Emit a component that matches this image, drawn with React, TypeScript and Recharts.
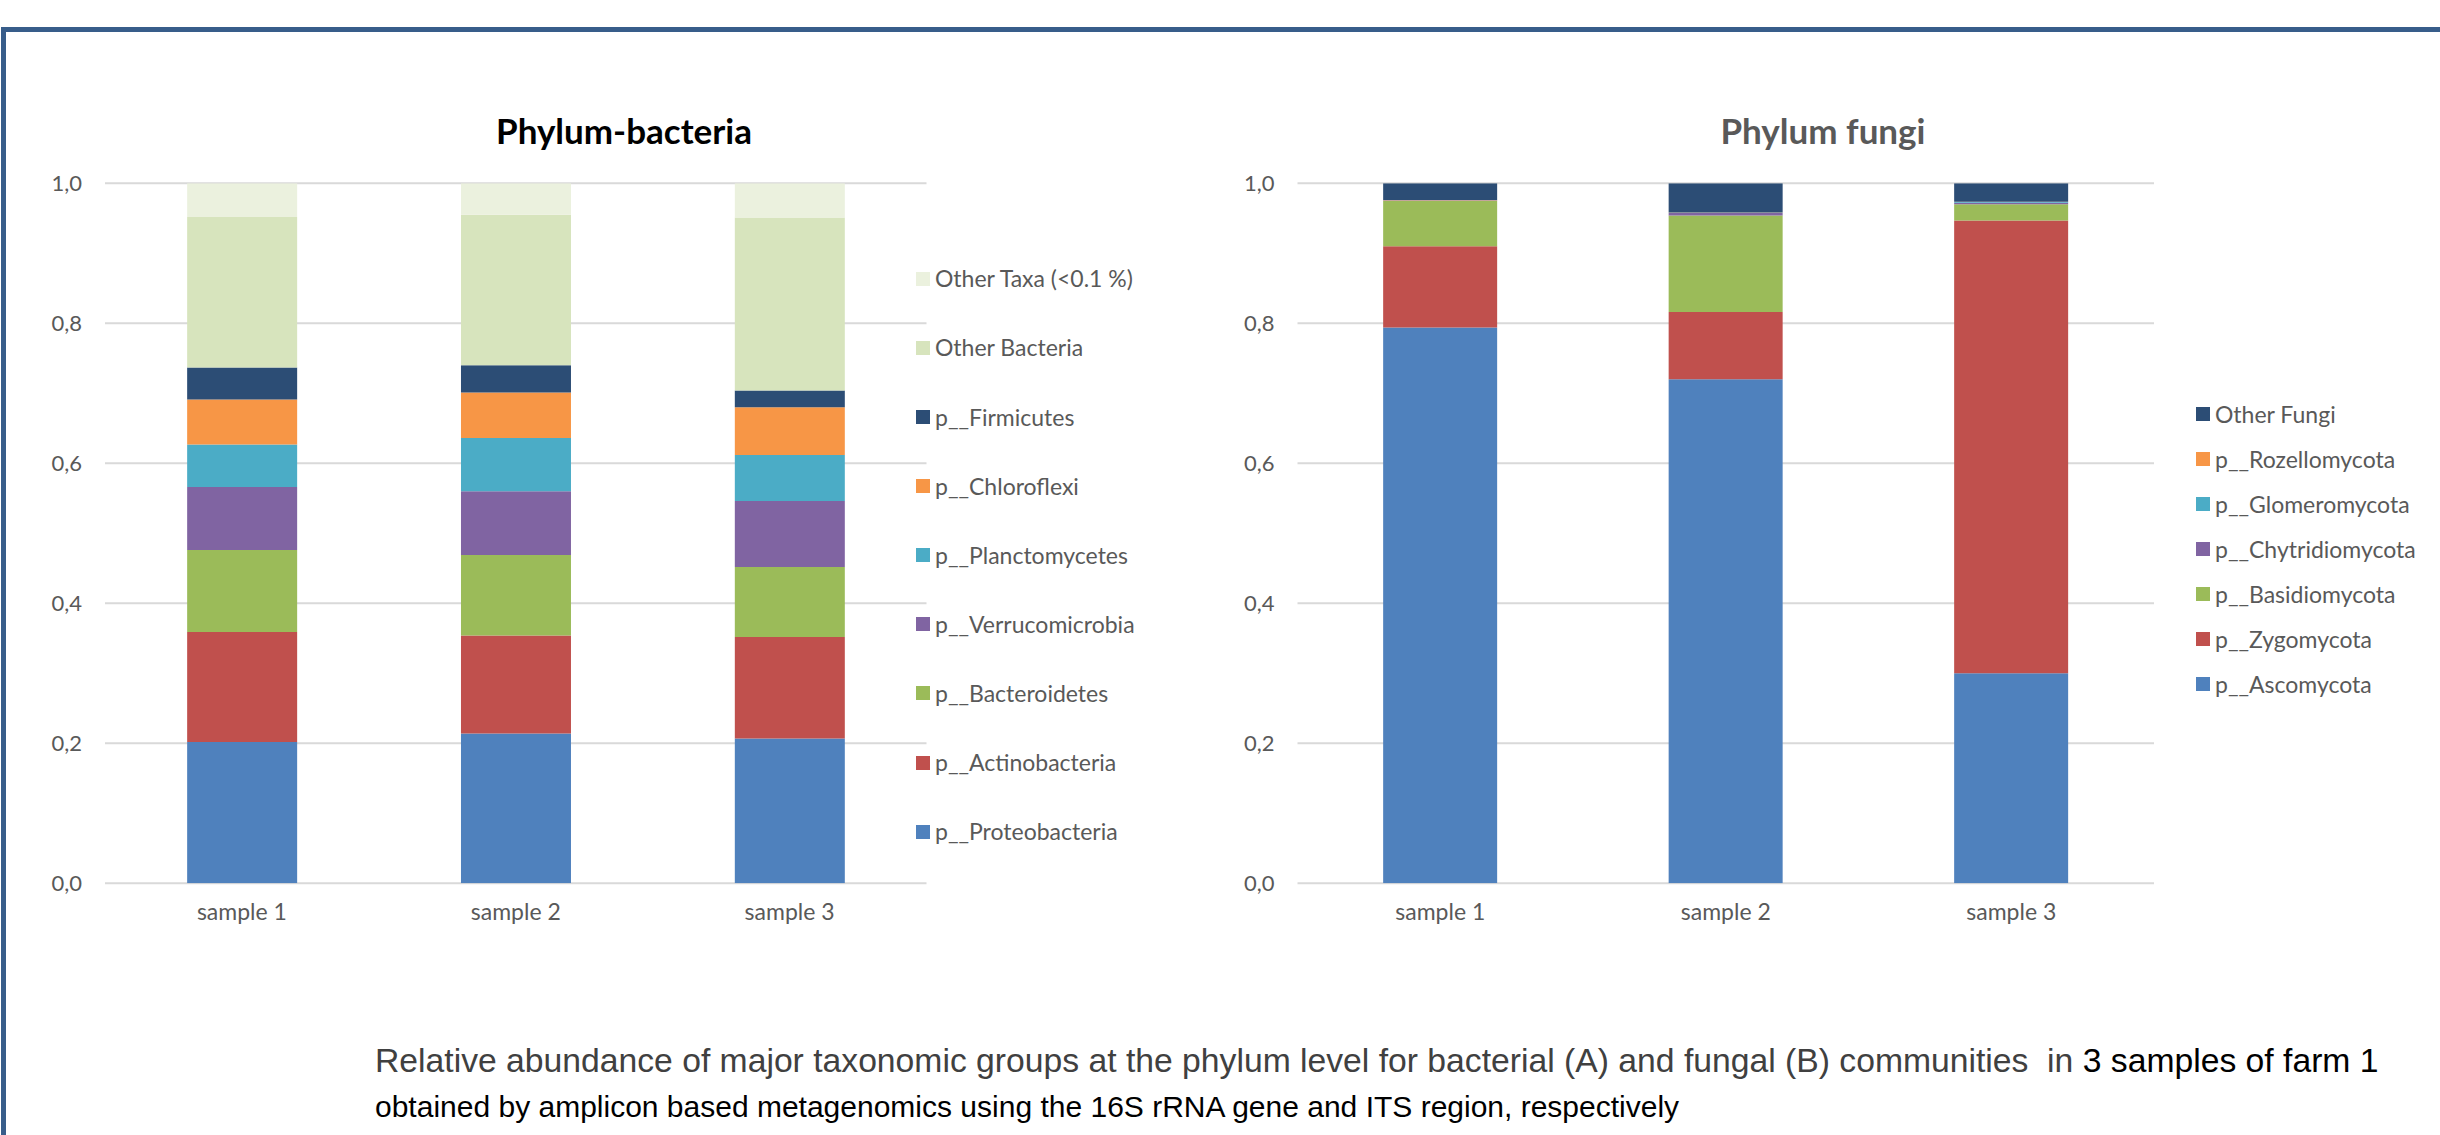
import React from 'react';
import { BarChart, Bar, XAxis, YAxis, CartesianGrid, Legend } from 'recharts';

// ---- shared axis data ----
const samples = ['sample 1', 'sample 2', 'sample 3'];
const yTicks = [0, 0.2, 0.4, 0.6, 0.8, 1.0];

// ---- bacterial phyla, relative abundance (stack order: bottom -> top) ----
const proteobacteria = [0.202, 0.214, 0.207];
const actinobacteria = [0.157, 0.14, 0.145];
const bacteroidetes = [0.117, 0.115, 0.1];
const verrucomicrobia = [0.09, 0.091, 0.094];
const planctomycetes = [0.061, 0.076, 0.066];
const chloroflexi = [0.064, 0.065, 0.068];
const firmicutes = [0.046, 0.039, 0.024];
const otherBacteria = [0.215, 0.215, 0.247];
const otherTaxa = [0.048, 0.045, 0.049];

// ---- fungal phyla, relative abundance (stack order: bottom -> top) ----
const ascomycota = [0.794, 0.72, 0.3];
const zygomycota = [0.116, 0.096, 0.647];
const basidiomycota = [0.065, 0.138, 0.023];
const chytridiomycota = [0.0007, 0.0035, 0.0022];
const glomeromycota = [0.0002, 0.0006, 0.001];
const rozellomycota = [0.0001, 0.0002, 0.0003];
const otherFungi = [0.024, 0.0417, 0.0265];

type Series = { key: string; name: string; values: number[]; color: string };

const bacteriaSeries: Series[] = [
  { key: 'proteo', name: 'p__Proteobacteria', values: proteobacteria, color: '#4F81BD' },
  { key: 'actino', name: 'p__Actinobacteria', values: actinobacteria, color: '#C0504D' },
  { key: 'bactero', name: 'p__Bacteroidetes', values: bacteroidetes, color: '#9BBB59' },
  { key: 'verruco', name: 'p__Verrucomicrobia', values: verrucomicrobia, color: '#8064A2' },
  { key: 'plancto', name: 'p__Planctomycetes', values: planctomycetes, color: '#4BACC6' },
  { key: 'chloro', name: 'p__Chloroflexi', values: chloroflexi, color: '#F79646' },
  { key: 'firmi', name: 'p__Firmicutes', values: firmicutes, color: '#2C4D75' },
  { key: 'otherB', name: 'Other Bacteria', values: otherBacteria, color: '#D7E4BD' },
  { key: 'otherT', name: 'Other Taxa (<0.1 %)', values: otherTaxa, color: '#EBF1DE' },
];

const fungiSeries: Series[] = [
  { key: 'asco', name: 'p__Ascomycota', values: ascomycota, color: '#4F81BD' },
  { key: 'zygo', name: 'p__Zygomycota', values: zygomycota, color: '#C0504D' },
  { key: 'basidio', name: 'p__Basidiomycota', values: basidiomycota, color: '#9BBB59' },
  { key: 'chytrid', name: 'p__Chytridiomycota', values: chytridiomycota, color: '#8064A2' },
  { key: 'glomero', name: 'p__Glomeromycota', values: glomeromycota, color: '#4BACC6' },
  { key: 'rozello', name: 'p__Rozellomycota', values: rozellomycota, color: '#F79646' },
  { key: 'otherF', name: 'Other Fungi', values: otherFungi, color: '#2C4D75' },
];

const buildRows = (series: Series[]) =>
  samples.map((sample, i) => {
    const row: Record<string, string | number> = { sample };
    series.forEach((s) => {
      row[s.key] = s.values[i];
    });
    return row;
  });

const bacteriaRows = buildRows(bacteriaSeries);
const fungiRows = buildRows(fungiSeries);

const CHART_FONT = 'Lato, "Open Sans", sans-serif';
const TEXT_GREY = '#595959';
const GRID_GREY = '#D9D9D9';

const fmtTick = (v: number) => v.toFixed(1).replace('.', ',');

// Legend listed top-down in stack order (top segment first)
const StackLegend = (props: any) => {
  const { payload, rowHeight, order } = props;
  const items = [...(payload ?? [])].sort(
    (a: any, b: any) => order.indexOf(b.dataKey) - order.indexOf(a.dataKey)
  );
  return (
    <div>
      {items.map((it: any) => (
        <div
          key={it.value}
          style={{ display: 'flex', alignItems: 'center', height: rowHeight }}
        >
          <span
            style={{
              display: 'inline-block',
              width: 14,
              height: 14,
              background: it.color,
              marginRight: 5,
              flex: 'none',
            }}
          />
          <span
            style={{
              fontFamily: CHART_FONT,
              fontSize: 23,
              color: TEXT_GREY,
              whiteSpace: 'nowrap',
              lineHeight: 1,
            }}
          >
            {it.value}
          </span>
        </div>
      ))}
    </div>
  );
};

type PanelProps = {
  rows: Record<string, string | number>[];
  series: Series[];
  width: number;
  yAxisWidth: number;
  marginRight: number;
  legendLeft: number;
  legendTop: number;
  legendRow: number;
};

const StackedPanel = ({
  rows,
  series,
  width,
  yAxisWidth,
  marginRight,
  legendLeft,
  legendTop,
  legendRow,
}: PanelProps) => (
  <BarChart
    width={width}
    height={1000}
    data={rows}
    margin={{ top: 183.3, right: marginRight, bottom: 76.7, left: 0 }}
    barCategoryGap="30%"
  >
    <CartesianGrid horizontal vertical={false} stroke={GRID_GREY} strokeWidth={2} />
    <XAxis
      dataKey="sample"
      axisLine={false}
      tickLine={false}
      tickSize={0}
      tickMargin={20}
      height={40}
      tick={{ fill: TEXT_GREY, fontSize: 23, fontFamily: CHART_FONT }}
    />
    <YAxis
      width={yAxisWidth}
      domain={[0, 1]}
      ticks={yTicks}
      allowDataOverflow
      axisLine={false}
      tickLine={false}
      tickSize={0}
      tickMargin={23}
      tickFormatter={fmtTick}
      tick={{ fill: TEXT_GREY, fontSize: 22, fontFamily: CHART_FONT }}
    />
    {series.map((s) => (
      <Bar
        key={s.key}
        dataKey={s.key}
        name={s.name}
        stackId="stack"
        fill={s.color}
        isAnimationActive={false}
      />
    ))}
    <Legend
      layout="vertical"
      align="center"
      verticalAlign="middle"
      wrapperStyle={{ left: legendLeft, top: legendTop, width: 'auto' }}
      content={(p: any) => (
        <StackLegend {...p} rowHeight={legendRow} order={series.map((s) => s.key)} />
      )}
    />
  </BarChart>
);

const titleStyle: React.CSSProperties = {
  position: 'absolute',
  top: 108,
  fontFamily: CHART_FONT,
  fontWeight: 700,
  fontSize: 35,
  lineHeight: '44px',
  textAlign: 'center',
  width: 400,
  whiteSpace: 'nowrap',
};

export default function App() {
  return (
    <div
      style={{
        position: 'relative',
        width: 2440,
        height: 1135,
        overflow: 'hidden',
        background: '#ffffff',
      }}
    >
      <style>{'body{margin:0}'}</style>

      {/* slide frame */}
      <div
        style={{
          position: 'absolute',
          left: 1,
          top: 27,
          width: 2600,
          height: 1300,
          borderLeft: '5px solid #385D8A',
          borderTop: '5px solid #385D8A',
          boxSizing: 'border-box',
        }}
      />

      {/* bacteria panel */}
      <div style={{ position: 'absolute', left: 0, top: 0 }}>
        <StackedPanel
          rows={bacteriaRows}
          series={bacteriaSeries}
          width={1200}
          yAxisWidth={105}
          marginRight={1200 - 926.5}
          legendLeft={916}
          legendTop={278.9 - 69.1 / 2}
          legendRow={69.1}
        />
      </div>
      <div style={{ ...titleStyle, left: 624 - 200, color: '#000000' }}>Phylum-bacteria</div>

      {/* fungi panel */}
      <div style={{ position: 'absolute', left: 1200, top: 0 }}>
        <StackedPanel
          rows={fungiRows}
          series={fungiSeries}
          width={1240}
          yAxisWidth={97.5}
          marginRight={1240 - 954}
          legendLeft={996}
          legendTop={414.3 - 45 / 2}
          legendRow={45}
        />
      </div>
      <div style={{ ...titleStyle, left: 1823 - 200, color: TEXT_GREY }}>Phylum fungi</div>

      {/* caption */}
      <div
        style={{
          position: 'absolute',
          left: 375,
          top: 1036,
          fontFamily: '"Liberation Sans", Arial, sans-serif',
          color: '#000000',
          whiteSpace: 'nowrap',
        }}
      >
        <div style={{ fontSize: 33.7, lineHeight: '48px' }}>
          <span style={{ color: '#404040' }}>
            Relative abundance of major taxonomic groups at the phylum level for bacterial (A) and fungal (B) communities&nbsp; in
          </span>{' '}
          3 samples of farm 1
        </div>
        <div style={{ fontSize: 30, lineHeight: '45px' }}>
          obtained by amplicon based metagenomics using the 16S rRNA gene and ITS region, respectively
        </div>
      </div>
    </div>
  );
}
